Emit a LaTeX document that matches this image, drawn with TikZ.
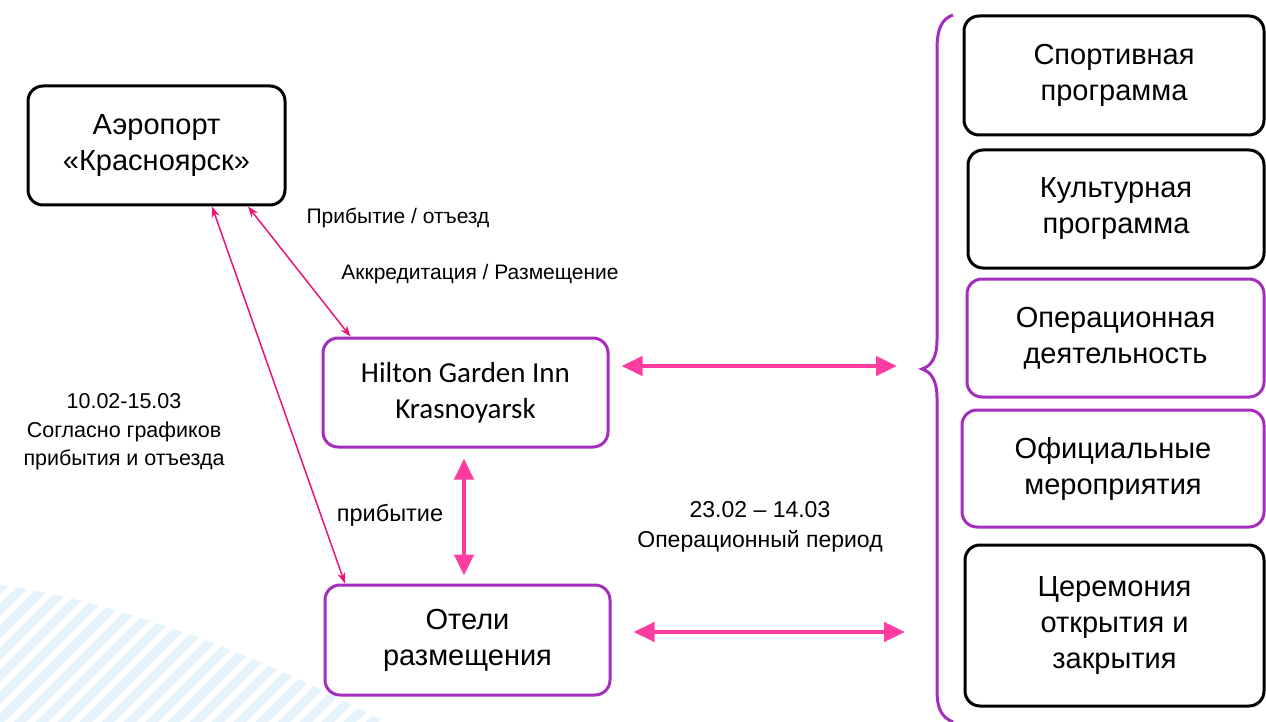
\documentclass[tikz,border=0pt]{standalone}
\usepackage{fontspec}
\setmainfont{Liberation Sans}
\newfontfamily\hiltonfont{Carlito}
\usetikzlibrary{arrows.meta,positioning}
\definecolor{boxpurple}{RGB}{165,45,190}
\definecolor{thinpink}{RGB}{232,20,120}
\definecolor{thickpink}{RGB}{255,60,160}
\definecolor{stripeblue}{RGB}{228,243,252}
\tikzset{
  boxbase/.style args={#1,#2}{
  rounded corners=15pt,
  line width=3pt,
  fill=white,
  align=center,
  inner sep=0pt,
  minimum width=#1pt,
  minimum height=#2pt,
  font=\fontsize{29}{36}\selectfont
  },
  blackbox/.style args={#1,#2}{boxbase={#1,#2},draw=black},
  purplebox/.style args={#1,#2}{boxbase={#1,#2},draw=boxpurple},
  thinarr/.style={{Stealth[length=11pt,width=8pt]}-{Stealth[length=11pt,width=8pt]},
    line width=1.5pt,draw=thinpink},
  thickarr/.style={{Triangle[length=21pt,width=19pt]}-{Triangle[length=21pt,width=19pt]},
    line width=4.5pt,draw=thickpink},
  smalltext/.style={align=center,inner sep=0pt,font=\fontsize{21}{26}\selectfont},
  midtext/.style={align=center,inner sep=0pt,font=\fontsize{21.5}{28.5}\selectfont}
}

\begin{document}
\begin{tikzpicture}[x=1pt,y=-1pt]
  \useasboundingbox (0,0) rectangle (1266,722);

  % faint stripes in the corner
  \begin{scope}
    \clip (0,585) .. controls (110,600) and (250,650) .. (385,722) -- (0,722) -- cycle;
    \foreach \s in {-60,-38,...,560}
      \draw[stripeblue,line width=9pt] (\s,560) -- ++(-170,170);
  \end{scope}

  \node [blackbox={257,119}] (air) at (156.5,145.5) {Аэропорт\\«Красноярск»};
  \node [purplebox={285,109},font=\hiltonfont\fontsize{29}{36}\selectfont] (hilton) at (465.5,392.5) {Hilton Garden Inn\\Krasnoyarsk};
  \node [purplebox={285,110}] (otel) at (467.5,640) {Отели\\размещения};

  \node [blackbox={300,119}] (sport) at (1114,75.5) {Спортивная\\программа};
  \node [blackbox={296,118}] (cult) at (1116,209) {Культурная\\программа};
  \node [purplebox={297,118}] (oper) at (1115.5,338) {Операционная\\деятельность};
  \node [purplebox={302,117}] (offic) at (1113,468.5) {Официальные\\мероприятия};
  \node [blackbox={299,161}] (cerem) at (1114.5,625.5) {Церемония\\открытия и\\закрытия};

  % brace
  \coordinate (bracetip) at (922,369);
  \coordinate (otelend) at (905,632);
  \draw[boxpurple,line width=3pt] (953,15) .. controls (941,19) and (937,30) .. (937,50)
    -- (937,340) .. controls (937,358) and (931,366) .. (bracetip)
    .. controls (931,372) and (937,380) .. (937,398)
    -- (937,690) .. controls (937,708) and (941,717) .. (953,722);

  \node [smalltext] (lab1) at (398,218) {Прибытие / отъезд};
  \node [smalltext] (lab2) at (480,274) {Аккредитация / Размещение};
  \node [midtext] (lab3) at (124,432) {10.02-15.03\\Согласно графиков\\прибытия и отъезда};
  \node [midtext,font=\fontsize{23.5}{29}\selectfont] (lab4) at (390,515) {прибытие};
  \node [midtext,font=\fontsize{23}{30}\selectfont] (lab5) at (760,527) {23.02 – 14.03\\Операционный период};

  \draw[thinarr] ([xshift=91.5pt]air.south) -- ([xshift=-115pt]hilton.north);
  \draw[thinarr] ([xshift=55.5pt]air.south) -- ([xshift=-122.5pt]otel.north);

  \draw[thickarr] ([xshift=12pt,yshift=26.5pt]hilton.east) -- ([xshift=-25pt,yshift=3pt]bracetip);
  \draw[thickarr] ([xshift=-1.5pt,yshift=-10pt]hilton.south) -- ([xshift=-3.5pt,yshift=8pt]otel.north);
  \draw[thickarr] ([xshift=22pt,yshift=8pt]otel.east) -- (otelend);
\end{tikzpicture}
\end{document}
